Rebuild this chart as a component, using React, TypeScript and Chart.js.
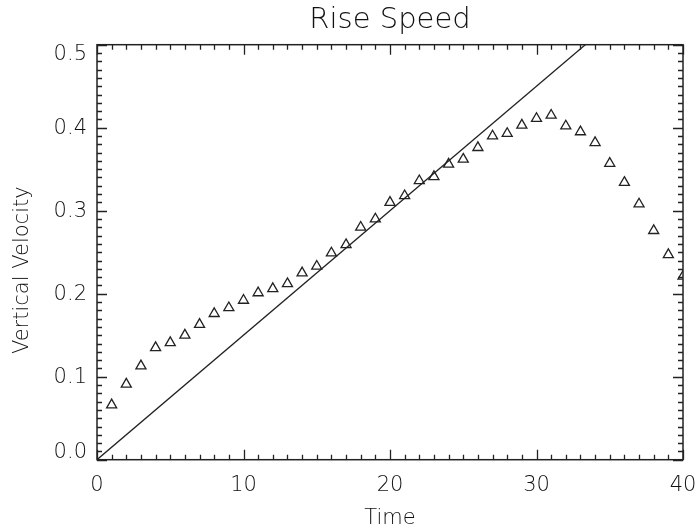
import React, { useEffect, useRef } from "react";
import { Chart, registerables } from "chart.js";

Chart.register(...registerables);

// Sample times and measured vertical velocity
const times = [
  1, 2, 3, 4, 5, 6, 7, 8, 9, 10, 11, 12, 13, 14, 15, 16, 17, 18, 19, 20,
  21, 22, 23, 24, 25, 26, 27, 28, 29, 30, 31, 32, 33, 34, 35, 36, 37, 38, 39, 40,
];
const velocity = [
  0.066, 0.091, 0.113, 0.135, 0.141, 0.150, 0.163, 0.176, 0.183, 0.192,
  0.201, 0.206, 0.212, 0.225, 0.233, 0.249, 0.259, 0.280, 0.290, 0.310,
  0.318, 0.336, 0.341, 0.356, 0.362, 0.376, 0.390, 0.393, 0.403, 0.411,
  0.415, 0.402, 0.395, 0.382, 0.357, 0.334, 0.308, 0.276, 0.247, 0.221,
];

// Reference linear trend (end points)
const trendTimes = [0, 40];
const trendVelocity = [0, 0.6];

const xTickValues = [0, 10, 20, 30, 40];
const yTickValues = [0, 0.1, 0.2, 0.3, 0.4, 0.5];

const INK = "#222222";
const TEXT = "#111111";
const FONT = "'DejaVu Sans', sans-serif";
const WEIGHT = 200;

const framePlugin = {
  id: "frame",
  afterDraw(chart: any) {
    const { ctx, chartArea } = chart;
    const xs = chart.scales.x;
    const ys = chart.scales.y;
    const { left, right, top, bottom } = chartArea;
    ctx.save();
    ctx.strokeStyle = INK;
    ctx.lineWidth = 1.5;
    ctx.strokeRect(left, top, right - left, bottom - top);

    ctx.lineWidth = 1.3;
    ctx.beginPath();
    // x ticks: minor every 1, major every 10, on bottom and top
    for (let t = 0; t <= 40; t += 1) {
      const px = Math.round(xs.getPixelForValue(t)) + 0.5;
      const len = t % 10 === 0 ? 10 : 5;
      ctx.moveTo(px, bottom);
      ctx.lineTo(px, bottom - len);
      ctx.moveTo(px, top);
      ctx.lineTo(px, top + len);
    }
    // y ticks: minor every 0.01, major every 0.1, on left and right
    for (let i = 0; i <= 50; i += 1) {
      const py = Math.round(ys.getPixelForValue(i / 100)) + 0.5;
      const len = i % 10 === 0 ? 10 : 5;
      ctx.moveTo(left, py);
      ctx.lineTo(left + len, py);
      ctx.moveTo(right, py);
      ctx.lineTo(right - len, py);
    }
    ctx.stroke();

    // y tick labels, end labels nudged inward
    ctx.fillStyle = TEXT;
    ctx.font = `${WEIGHT} 21px ${FONT}`;
    ctx.textAlign = "right";
    ctx.textBaseline = "middle";
    yTickValues.forEach((v, i) => {
      let py = ys.getPixelForValue(v);
      if (i === 0) py -= 8;
      if (i === yTickValues.length - 1) py += 9;
      ctx.fillText(v.toFixed(1), left - 10, py + 1);
    });

    // y axis title
    ctx.save();
    ctx.translate(23, (top + bottom) / 2 + 18);
    ctx.rotate(-Math.PI / 2);
    ctx.textAlign = "center";
    ctx.textBaseline = "middle";
    ctx.fillText("Vertical Velocity", 0, 0);
    ctx.restore();

    ctx.restore();
  },
};

export default function App() {
  const canvasRef = useRef<HTMLCanvasElement | null>(null);

  useEffect(() => {
    const canvas = canvasRef.current;
    if (!canvas) return;
    const chart = new Chart(canvas, {
      type: "scatter",
      data: {
        datasets: [
          {
            type: "line",
            data: trendTimes.map((t, i) => ({ x: t, y: trendVelocity[i] })),
            borderColor: INK,
            borderWidth: 1.3,
            pointRadius: 0,
            fill: false,
          },
          {
            type: "scatter",
            data: times.map((t, i) => ({ x: t, y: velocity[i] })),
            pointStyle: "triangle",
            pointRadius: 5.8,
            pointHoverRadius: 5.8,
            pointBorderWidth: 1.3,
            borderColor: INK,
            backgroundColor: "rgba(0,0,0,0)",
          },
        ] as any,
      },
      options: {
        animation: false,
        responsive: false,
        events: [],
        layout: { padding: { left: 0, right: 15, top: 0, bottom: 0 } },
        plugins: {
          legend: { display: false },
          tooltip: { enabled: false },
          title: {
            display: true,
            text: "Rise Speed",
            fullSize: false,
            color: TEXT,
            font: { family: FONT, size: 29, weight: WEIGHT, lineHeight: 1.2 },
            padding: { top: 3, bottom: 6.9 },
          },
        },
        scales: {
          x: {
            type: "linear",
            min: 0,
            max: 40,
            afterBuildTicks: (scale: any) => {
              scale.ticks = xTickValues.map((v) => ({ value: v }));
            },
            ticks: {
              color: TEXT,
              font: { family: FONT, size: 21, weight: WEIGHT },
              padding: 13,
              maxRotation: 0,
              autoSkip: false,
            },
            grid: { display: false, drawTicks: false },
            border: { display: false },
            title: {
              display: true,
              text: "Time",
              color: TEXT,
              font: { family: FONT, size: 21, weight: WEIGHT, lineHeight: 1.0 },
              padding: { top: 0, bottom: 0 },
            },
            afterFit: (scale: any) => {
              scale.height = 69.3;
              scale.paddingLeft = 0;
              scale.paddingRight = 0;
            },
          },
          y: {
            type: "linear",
            min: 0,
            max: 0.5,
            ticks: { display: false },
            grid: { display: false, drawTicks: false },
            border: { display: false },
            afterFit: (scale: any) => {
              scale.width = 97;
              scale.paddingTop = 0;
              scale.paddingBottom = 0;
            },
          },
        },
      } as any,
      plugins: [framePlugin],
    });
    return () => chart.destroy();
  }, []);

  return (
    <div style={{ position: "fixed", left: 0, top: 0, width: 698, height: 529, background: "#fff" }}>
      <canvas ref={canvasRef} width={698} height={529} style={{ display: "block" }} />
    </div>
  );
}
